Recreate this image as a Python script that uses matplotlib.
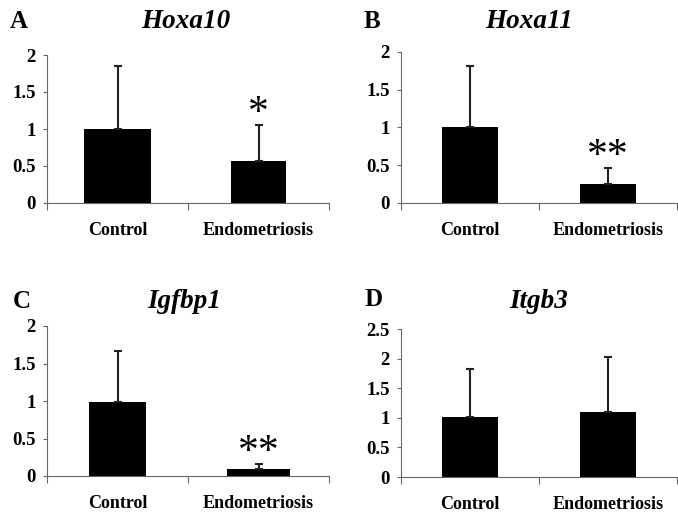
import matplotlib.pyplot as plt

plt.rcParams['font.family'] = ['Liberation Serif', 'DejaVu Serif']

# data
categories = ['Control', 'Endometriosis']
genes = ['Hoxa10', 'Hoxa11', 'Igfbp1', 'Itgb3']
letters = ['A', 'B', 'C', 'D']
means = [[1.0, 0.57], [1.0, 0.25], [0.99, 0.10], [1.01, 1.10]]
errors = [[0.85, 0.48], [0.81, 0.21], [0.68, 0.06], [0.82, 0.93]]
stars = [['', '*'], ['', '**'], ['', '**'], ['', '']]
ymax = [2, 2, 2, 2.5]
ysteps = [0.5, 0.5, 0.5, 0.5]

# layout (figure fractions)
W, H = 678, 514
boxes = [(47, 55, 329, 203), (401, 52, 677, 203),
         (47, 326, 329, 476), (401, 329, 677, 477)]
bar_w = [[0.47, 0.39], [0.40, 0.40], [0.40, 0.45], [0.40, 0.40]]
letter_xy = [(19, 22), (372, 22), (22, 301), (374, 300)]
title_xy = [(186, 22), (529, 22), (184, 302), (539, 302)]

fig = plt.figure(figsize=(W / 100, H / 100), dpi=100)
spine_col = '#666666'

for i in range(4):
    x0, y0, x1, y1 = boxes[i]
    ax = fig.add_axes([x0 / W, 1 - y1 / H, (x1 - x0) / W, (y1 - y0) / H])
    xs = list(range(len(categories)))
    ax.bar(xs, means[i], width=bar_w[i], color='black')
    ax.errorbar(xs, means[i], yerr=[[0, 0], errors[i]], fmt='none',
                ecolor='#222222', elinewidth=1.5, capsize=3, capthick=1.5)
    for x, m, e, s in zip(xs, means[i], errors[i], stars[i]):
        if s:
            ax.annotate(s, (x, m + e), xytext=(0, 1), textcoords='offset points',
                        ha='center', va='baseline', fontsize=30)
    ax.set_xlim(-0.5, 1.5)
    ax.set_ylim(0, ymax[i])
    n = int(round(ymax[i] / ysteps[i]))
    yt = [k * ysteps[i] for k in range(n + 1)]
    ax.set_yticks(yt)
    ax.set_yticklabels(['%g' % v for v in yt], fontsize=13.5, fontweight='bold')
    ax.set_xticks([-0.5, 0.5, 1.5])
    ax.set_xticklabels([])
    ax.set_xticks(xs, minor=True)
    ax.set_xticklabels(categories, minor=True, fontsize=13, fontweight='bold')
    ax.tick_params(axis='x', which='minor', length=0, pad=14)
    ax.tick_params(axis='x', which='major', length=5, direction='out',
                   color=spine_col, width=0.8)
    ax.tick_params(axis='y', length=3, direction='out', color=spine_col,
                   width=0.8, pad=5)
    for side in ['top', 'right']:
        ax.spines[side].set_visible(False)
    for side in ['left', 'bottom']:
        ax.spines[side].set_color(spine_col)
        ax.spines[side].set_linewidth(0.8)
    ax.patch.set_visible(False)

    lx, ly = letter_xy[i]
    fig.text(lx / W, 1 - ly / H, letters[i], ha='center', va='center',
             fontsize=18, fontweight='bold')
    tx, ty = title_xy[i]
    fig.text(tx / W, 1 - ty / H, genes[i], ha='center', va='center',
             fontsize=19.5, fontweight='bold', fontstyle='italic')

fig.savefig('out.png', dpi=100)
